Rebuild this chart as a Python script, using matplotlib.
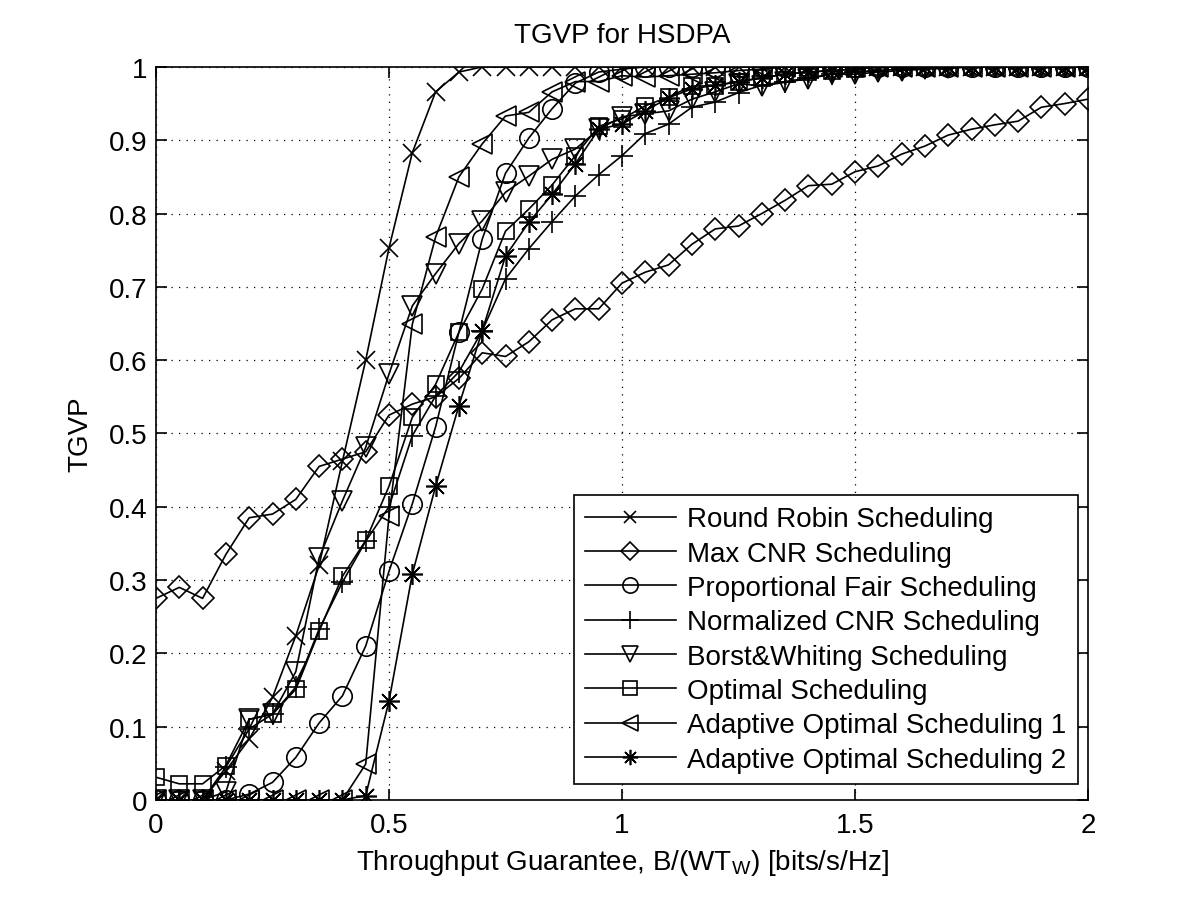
import numpy as np
import matplotlib
matplotlib.use('Agg')
import matplotlib.pyplot as plt

# throughput guarantee grid (0 .. 2, step 0.05)
x = np.linspace(0, 2, 41)

round_robin = [0, 0, 0, 0.04, 0.083, 0.14, 0.224, 0.32, 0.462, 0.60, 0.753, 0.883, 0.966, 0.993] + [1.0] * 27
max_cnr = [0.275, 0.29, 0.275, 0.335, 0.385, 0.39, 0.41, 0.455, 0.465, 0.475, 0.525, 0.54, 0.55, 0.575,
           0.61, 0.605, 0.625, 0.655, 0.67, 0.67, 0.705, 0.72, 0.73, 0.758, 0.779, 0.783, 0.80, 0.818,
           0.838, 0.84, 0.857, 0.865, 0.881, 0.892, 0.907, 0.915, 0.921, 0.926, 0.945, 0.95, 0.956]
prop_fair = [0, 0, 0, 0, 0.008, 0.024, 0.058, 0.105, 0.142, 0.21, 0.312, 0.404, 0.509, 0.638, 0.765,
             0.855, 0.903, 0.943, 0.978, 0.993, 0.997] + [1.0] * 20
norm_cnr = [0, 0, 0, 0.045, 0.097, 0.117, 0.154, 0.233, 0.297, 0.353, 0.40, 0.497, 0.551, 0.584, 0.64,
            0.711, 0.752, 0.789, 0.824, 0.853, 0.879, 0.909, 0.922, 0.945, 0.952, 0.965, 0.975, 0.98,
            0.985, 0.99, 0.993, 0.995, 0.997, 0.998] + [1.0] * 7
borst_whiting = [0, 0, 0, 0.011, 0.11, 0.117, 0.175, 0.33, 0.408, 0.481, 0.581, 0.674, 0.718, 0.759,
                 0.79, 0.829, 0.851, 0.874, 0.888, 0.915, 0.932, 0.936, 0.94, 0.956, 0.966, 0.977,
                 0.974, 0.979, 0.984, 0.99, 0.99, 0.993, 0.995, 0.997, 0.998] + [1.0] * 6
optimal = [0.031, 0.022, 0.022, 0.047, 0.11, 0.117, 0.151, 0.23, 0.305, 0.354, 0.428, 0.522, 0.567,
           0.638, 0.697, 0.776, 0.806, 0.839, 0.879, 0.919, 0.929, 0.947, 0.959, 0.974, 0.974, 0.98,
           0.985, 0.99, 0.993, 0.995, 0.997] + [1.0] * 10
adaptive1 = [0] * 9 + [0.049, 0.387, 0.649, 0.768, 0.85, 0.895, 0.933, 0.938, 0.966, 0.98, 0.98, 0.988,
                       0.986, 0.988, 0.99, 0.992, 0.995, 0.997] + [1.0] * 14
adaptive2 = [0] * 9 + [0.006, 0.135, 0.308, 0.428, 0.538, 0.64, 0.742, 0.788, 0.826, 0.868, 0.915, 0.922,
                       0.94, 0.958, 0.97, 0.975, 0.98, 0.985, 0.99, 0.993, 0.995, 0.997] + [1.0] * 10

labels = ['Round Robin Scheduling', 'Max CNR Scheduling', 'Proportional Fair Scheduling',
          'Normalized CNR Scheduling', 'Borst&Whiting Scheduling', 'Optimal Scheduling',
          'Adaptive Optimal Scheduling 1', 'Adaptive Optimal Scheduling 2']
series = [round_robin, max_cnr, prop_fair, norm_cnr, borst_whiting, optimal, adaptive1, adaptive2]
# matlab style markers; '*' in matlab is an 8-arm asterisk
markers = ['x', 'D', 'o', '+', 'v', 's', '<', (8, 2, 0)]
msizes = [13, 11, 14, 16, 14, 12, 14, 15]
leg_msizes = [9, 9, 11, 13, 11, 10, 11, 11]

plt.rcParams['font.family'] = ['Liberation Sans', 'DejaVu Sans']
plt.rcParams['mathtext.default'] = 'regular'
fs = 20

fig = plt.figure(figsize=(12, 9.03), dpi=100)
ax = fig.add_axes([0.13, 0.113, 0.7767, 0.8118])

for y, lab, m, ms in zip(series, labels, markers, msizes):
    ax.plot(x, y, color='k', lw=1.2, marker=m, ms=ms, mfc='none', mec='k', mew=1.2, label=lab)

ax.set_xlim(0, 2)
ax.set_ylim(0, 1)
ax.set_xticks([0, 0.5, 1, 1.5, 2])
ax.set_xticklabels(['0', '0.5', '1', '1.5', '2'])
ax.set_yticks(np.arange(0, 1.01, 0.1))
ax.set_yticklabels(['0', '0.1', '0.2', '0.3', '0.4', '0.5', '0.6', '0.7', '0.8', '0.9', '1'])
ax.grid(True, color='k', linestyle=(0, (1, 5)), linewidth=0.9)
ax.tick_params(direction='in', length=8, width=1.2, top=True, right=True, labelsize=fs)
ax.tick_params(axis='x', pad=9)
ax.tick_params(axis='y', pad=6)
for s in ax.spines.values():
    s.set_linewidth(1.2)

ax.set_title('TGVP for HSDPA', fontsize=fs, pad=18)
ax.set_xlabel('Throughput Guarantee, B/(WT$_W$) [bits/s/Hz]', fontsize=fs, labelpad=6)
ax.set_ylabel('TGVP', fontsize=fs, labelpad=11)

leg = ax.legend(loc='lower right', bbox_to_anchor=(0.989, 0.022), borderaxespad=0, fontsize=fs,
                numpoints=1, handlelength=3.3, handletextpad=0.4, labelspacing=0.3, borderpad=0.4,
                fancybox=False, framealpha=1, edgecolor='k')
leg.get_frame().set_linewidth(1.2)
for h, ms in zip(leg.legend_handles, leg_msizes):
    h.set_markersize(ms)

fig.savefig('out.png', dpi=100)
